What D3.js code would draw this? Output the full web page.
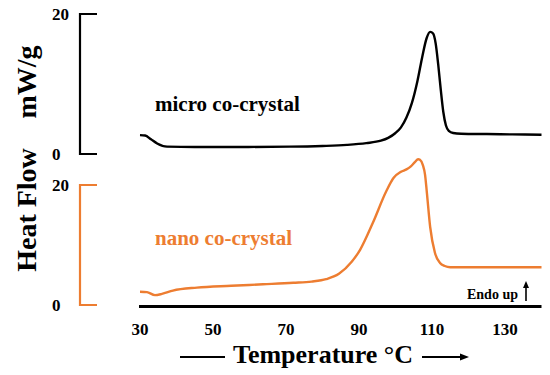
<!DOCTYPE html>
<html lang="en">

<head>
    <meta charset="UTF-8">
    <script src="https://d3js.org/d3.v7.min.js"></script>
    <title>DSC</title>
    <style>
        body {
            margin: 0;
            background: #fff;
        }
        text {
            font-family: "Liberation Serif", "Times New Roman", serif;
            font-weight: bold;
        }
    </style>
</head>

<body>
    <div id="app"></div>
    <script>
        const svg_width = 550;
        const svg_height = 375;
        const orange = '#ED7D31';

        // temperature (°C) / heat flow (mW/g)
        var micro_temp = [30, 31.4, 33, 34.7, 37.4, 45, 55, 71, 80, 86.7, 92, 96, 98, 100, 101.5, 103, 104.5, 106, 107.3, 108.5, 109.5, 110.3, 111, 111.7, 112.4, 113.1, 113.8, 114.6, 115.8, 118, 125, 132, 140];
        var micro_flow = [2.7, 2.65, 2.1, 1.5, 1.05, 1.0, 1.0, 1.05, 1.15, 1.3, 1.55, 1.9, 2.3, 3.0, 3.8, 5.2, 7.3, 10.4, 13.8, 16.5, 17.45, 17.2, 15.8, 12.8, 9.2, 6.0, 4.1, 3.3, 3.0, 2.9, 2.85, 2.8, 2.75];

        var nano_temp = [30, 31.9, 34.1, 36, 39, 45.6, 55, 63.7, 72, 77, 81, 84.5, 88, 90.3, 93.8, 97.5, 99.5, 101.5, 103, 104.2, 105.3, 106.2, 106.7, 107.5, 108.1, 108.6, 109.5, 110.8, 112.2, 113.5, 115, 125, 140];
        var nano_flow = [2.2, 2.15, 1.65, 1.85, 2.4, 2.9, 3.2, 3.45, 3.7, 3.9, 4.3, 5.2, 7.2, 9.2, 13.7, 19.0, 21.2, 22.2, 22.6, 23.1, 23.8, 24.3, 24.2, 23.3, 21.7, 18.7, 13.0, 8.7, 7.0, 6.5, 6.3, 6.3, 6.3];

        var x_ticks = [30, 50, 70, 90, 110, 130];
        var y_ticks = [0, 20];

        var svg = d3.select('#app')
            .append('svg')
            .attr('width', svg_width)
            .attr('height', svg_height)

        var x_scale = d3.scaleLinear().domain([30, 140]).range([140, 541.5])
        var y_top = d3.scaleLinear().domain([0, 20]).range([154, 14])
        var y_bot = d3.scaleLinear().domain([0, 20]).range([305, 185])

        // y brackets
        function bracket(scale, color) {
            var g = svg.append('g')
            g.append('path')
                .attr('d', 'M97,' + scale(20) + 'H80V' + scale(0) + 'H97')
                .attr('fill', 'none')
                .attr('stroke', color)
                .attr('stroke-width', 2.2)
            g.selectAll('text')
                .data(y_ticks)
                .enter()
                .append('text')
                .attr('x', 52)
                .attr('y', function (d) { return scale(d) + 6 })
                .attr('font-size', 17)
                .attr('fill', '#000')
                .text(function (d) { return d })
        }
        bracket(y_top, '#000')
        bracket(y_bot, orange)

        // x axis
        svg.append('line')
            .attr('x1', x_scale(30) - 1).attr('x2', x_scale(140))
            .attr('y1', 306.5).attr('y2', 306.5)
            .attr('stroke', '#000')
            .attr('stroke-width', 3)

        svg.append('g')
            .selectAll('text')
            .data(x_ticks)
            .enter()
            .append('text')
            .attr('x', function (d) { return x_scale(d) })
            .attr('y', 335)
            .attr('text-anchor', 'middle')
            .attr('font-size', 17)
            .text(function (d) { return d })

        // curves
        var line_top = d3.line()
            .x(function (d) { return x_scale(d[0]) })
            .y(function (d) { return y_top(d[1]) })
            .curve(d3.curveMonotoneX)
        var line_bot = d3.line()
            .x(function (d) { return x_scale(d[0]) })
            .y(function (d) { return y_bot(d[1]) })
            .curve(d3.curveMonotoneX)

        svg.append('path')
            .datum(d3.zip(micro_temp, micro_flow))
            .attr('d', line_top)
            .attr('fill', 'none')
            .attr('stroke', '#000')
            .attr('stroke-width', 2.4)

        svg.append('path')
            .datum(d3.zip(nano_temp, nano_flow))
            .attr('d', line_bot)
            .attr('fill', 'none')
            .attr('stroke', orange)
            .attr('stroke-width', 2.4)

        // sample labels
        svg.append('text')
            .attr('x', 155).attr('y', 111)
            .attr('font-size', 21)
            .text('micro co-crystal')
        svg.append('text')
            .attr('x', 155).attr('y', 245)
            .attr('font-size', 21)
            .attr('fill', orange)
            .text('nano co-crystal')

        // y title
        svg.append('text')
            .attr('transform', 'translate(36,210) rotate(-90)')
            .attr('text-anchor', 'middle')
            .attr('font-size', 28)
            .text('Heat Flow')
        svg.append('text')
            .attr('transform', 'translate(36,82) rotate(-90)')
            .attr('text-anchor', 'middle')
            .attr('font-size', 28)
            .text('mW/g')

        // x title with arrow lines
        svg.append('text')
            .attr('x', 323).attr('y', 363)
            .attr('text-anchor', 'middle')
            .attr('font-size', 26)
            .text('Temperature °C')
        svg.append('line')
            .attr('x1', 180).attr('x2', 225)
            .attr('y1', 357).attr('y2', 357)
            .attr('stroke', '#000').attr('stroke-width', 2)
        svg.append('line')
            .attr('x1', 422).attr('x2', 462)
            .attr('y1', 357).attr('y2', 357)
            .attr('stroke', '#000').attr('stroke-width', 2)
        svg.append('path')
            .attr('d', 'M469,357L460,353.5L460,360.5Z')
            .attr('fill', '#000')

        // endo up
        svg.append('text')
            .attr('x', 467).attr('y', 299)
            .attr('font-size', 14)
            .text('Endo up')
        svg.append('line')
            .attr('x1', 526).attr('x2', 526)
            .attr('y1', 301).attr('y2', 286)
            .attr('stroke', '#000').attr('stroke-width', 1.6)
        svg.append('path')
            .attr('d', 'M526,281L523,288L529,288Z')
            .attr('fill', '#000')
    </script>
</body>

</html>
